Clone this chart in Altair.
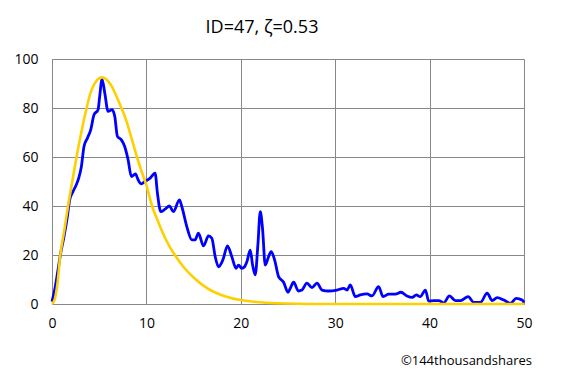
import altair as alt
import pandas as pd

# Observed series (blue)
obs_x = [0.0, 0.28, 0.64, 0.92, 1.27, 1.63, 1.87, 2.23, 2.55, 2.83, 3.11, 3.39, 3.75, 4.1, 4.45,
         4.88, 5.05, 5.3, 5.59, 5.94, 6.36, 6.65, 6.93, 7.35, 7.7, 8.06, 8.41, 8.84, 9.12, 9.47,
         9.83, 10.4, 10.92, 11.17, 11.52, 11.98, 12.44, 12.86, 13.5, 13.75, 14.28, 14.81, 15.16,
         15.51, 16.05, 16.58, 16.93, 17.29, 17.64, 18.1, 18.59, 19.05, 19.5, 19.76, 20.1, 20.4,
         20.65, 21.0, 21.25, 21.53, 21.81, 22.06, 22.3, 22.59, 22.94, 23.22, 23.58, 24.0, 24.53,
         25.0, 25.24, 25.6, 26.1, 26.48, 27.0, 27.54, 28.07, 28.6, 29.3, 30.19, 30.9, 31.25,
         31.6, 32.13, 32.66, 33.37, 33.9, 34.6, 35.07, 35.67, 36.37, 36.97, 37.6, 38.15, 38.6,
         39.0, 39.56, 39.9, 40.43, 40.96, 41.5, 42.1, 42.74, 43.27, 44.08, 44.68, 45.39, 46.1,
         46.63, 47.16, 47.86, 48.57, 49.17, 49.8, 50.0]
obs_y = [1, 5.7, 14, 20.7, 27.5, 35.7, 42.5, 45.9, 48.5, 51.4, 56, 64.3, 67.7, 71.1, 77.2,
         79.3, 84.7, 91.8, 86.1, 78.6, 79.3, 76.5, 68.4, 67, 64.3, 58.9, 52, 53.1, 50.7, 49,
         50, 51.4, 53.4, 45.2, 37.7, 38.7, 40, 37.7, 42.5, 39.8, 31.6, 26.2, 26.2,
         28.9, 23.7, 27.8, 26.8, 19.3, 15.2, 18, 23.7, 19.3, 14.6, 15.9, 14.6, 15.2,
         17.3, 22, 15.9, 11.9, 24.1, 37.7, 30.9, 15.9, 19.3, 21.4, 18, 11.2, 8.9,
         4.8, 6.4, 8.9, 5.3, 5.7, 8.5, 6.7, 8.5, 5.7, 5.3, 5.7, 6.4, 5.7,
         7.8, 3, 3.7, 4.1, 3.3, 7.1, 3, 4, 4, 4.8, 3.3, 2.7, 3.7,
         3, 5.7, 1.2, 1.4, 1.4, 0.5, 3.3, 1.4, 1.4, 3, 0.7, 0.7, 4.4,
         1.4, 2.6, 1.6, 0.3, 2.3, 1.6, 0.5]

# Fitted curve (yellow)
fit_x = [0, 0.3, 0.6, 0.85, 1.3, 1.7, 2.15, 2.6, 3.1, 3.6, 4.2, 4.7, 5.3, 5.8, 6.3, 6.8, 7.3,
         7.9, 8.4, 9.0, 9.5, 10.0, 10.6, 11.2, 11.8, 12.4, 13.1, 14.0, 15.0, 16.0, 17.0, 18.0,
         19.0, 20.0, 22.0, 24.0, 26.0, 28.0, 30.0, 35.0, 40.0, 45.0, 50.0]
fit_y = [0, 2, 9, 19, 30, 40, 50, 60, 70, 79, 87.5, 91, 92.5, 91.5, 89, 85, 80.5,
         74.5, 68, 60, 54, 48.5, 40, 34, 28.5, 23.8, 19.5, 14.8, 10.8, 7.6, 5.2, 3.6,
         2.4, 1.6, 0.7, 0.3, 0.1, 0, 0, 0, 0, 0, 0]

title_text = "ID=47, ζ=0.53"
credit_text = "©144thousandshares"
x_ticks = [0, 10, 20, 30, 40, 50]
y_ticks = [0, 20, 40, 60, 80, 100]

FONT = "Open Sans"

obs = pd.DataFrame({"x": obs_x, "y": obs_y})
fit = pd.DataFrame({"x": fit_x, "y": fit_y})

xs = alt.Scale(domain=[0, 50], nice=False)
ys = alt.Scale(domain=[0, 100], nice=False)

xax = alt.Axis(values=x_ticks, grid=True, ticks=False, domain=True, labelPadding=12,
               labelFlush=False, title=None, labelFontSize=14, labelFont=FONT,
               labelColor="#000000", gridColor="#888888", domainColor="#888888")
yax = alt.Axis(values=y_ticks, grid=True, ticks=False, domain=True, labelPadding=14,
               title=None, labelFontSize=14, labelFont=FONT, labelColor="#000000",
               gridColor="#888888", domainColor="#888888")

blue = alt.Chart(obs).mark_line(color="#0000FF", strokeWidth=2.8, interpolate="monotone").encode(
    x=alt.X("x:Q", scale=xs, axis=xax),
    y=alt.Y("y:Q", scale=ys, axis=yax),
)
yellow = alt.Chart(fit).mark_line(color="#FFD000", strokeWidth=2.6, interpolate="monotone").encode(
    x=alt.X("x:Q", scale=xs),
    y=alt.Y("y:Q", scale=ys),
)
credit = alt.Chart(pd.DataFrame({"t": [credit_text]})).mark_text(
    font=FONT, fontSize=13, align="right", baseline="middle", color="#000000"
).encode(text="t:N", x=alt.value(480), y=alt.value(302))

chart = alt.layer(blue, yellow, credit).properties(
    width=472,
    height=245,
    title=alt.TitleParams(title_text, font=FONT, fontSize=18, fontWeight="normal",
                          color="#000000", anchor="middle", dx=-26, offset=15),
    autosize=alt.AutoSizeParams(type="none"),
    padding={"left": 44, "top": 51, "right": 35, "bottom": 66},
).configure_view(stroke="#888888", strokeWidth=1).configure(background="white")

chart.save("out.html", embed_options={"renderer": "svg", "actions": False})
